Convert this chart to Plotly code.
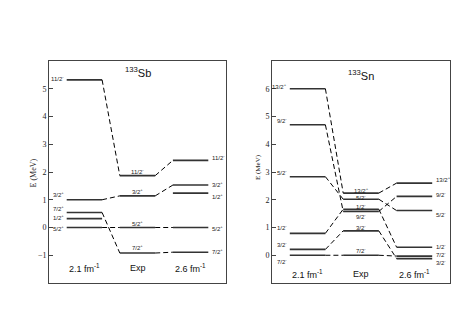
import plotly.graph_objects as go

# ---------------- data ----------------
column_labels = ["2.1 fm<sup>-1</sup>", "Exp", "2.6 fm<sup>-1</sup>"]

sb_title = "<sup>133</sup>Sb"
sb_spins = ["11/2<sup>-</sup>", "3/2<sup>+</sup>", "7/2<sup>+</sup>", "1/2<sup>+</sup>", "5/2<sup>+</sup>"]
sb_calc21 = [5.32, 1.00, 0.54, 0.32, 0.00]
sb_exp = [1.87, 1.14, -0.92, None, 0.00]
sb_calc26 = [2.42, 1.53, -0.89, 1.24, 0.00]

sn_title = "<sup>133</sup>Sn"
sn_spins = ["13/2<sup>+</sup>", "9/2<sup>-</sup>", "5/2<sup>-</sup>", "1/2<sup>-</sup>", "3/2<sup>-</sup>", "7/2<sup>-</sup>"]
sn_calc21 = [6.00, 4.70, 2.83, 0.79, 0.21, 0.00]
sn_exp = [2.24, 1.58, 2.02, 1.66, 0.88, 0.00]
sn_calc26 = [2.60, 2.12, 1.61, 0.29, -0.12, -0.03]

# ---------------- style / layout helpers ----------------
COLS = [(1, 3), (4, 6), (7, 9)]
LEVEL_COLOR = "#333333"
SANS = "Liberation Sans"
SERIF = "Liberation Serif"

# label vertical offsets in pixels (up positive): left column, exp column, right column
sb_off = {"l": [2, 6, 5, 2, 0], "e": [5, 5, 6, 0, 5], "r": [3, 1, 1, -3, 0]}
sn_off = {"l": [3, 5, 5, 6, 5, -6], "e": [3.5, -5, 2, 3, 3.5, 5.5], "r": [4, 2, -3, 1, -3.5, 2]}

fig = go.Figure()
annotations = []


def add_panel(xa, ya, spins, c21, cex, c26, off, title, title_y, collab_y):
    cols = [c21, cex, c26]
    lx, ly = [], []
    for (x0, x1), vals in zip(COLS, cols):
        for v in vals:
            if v is None:
                continue
            lx += [x0, x1, None]
            ly += [v, v, None]
    fig.add_trace(go.Scatter(x=lx, y=ly, mode="lines", xaxis=xa, yaxis=ya,
                             line=dict(color=LEVEL_COLOR, width=1.6),
                             hoverinfo="skip", showlegend=False))
    dx, dy = [], []
    for a, b, (xa0, xa1), (xb0, xb1) in [(c21, cex, COLS[0], COLS[1]), (cex, c26, COLS[1], COLS[2])]:
        for va, vb in zip(a, b):
            if va is None or vb is None:
                continue
            dx += [xa1, xb0, None]
            dy += [va, vb, None]
    fig.add_trace(go.Scatter(x=dx, y=dy, mode="lines", xaxis=xa, yaxis=ya,
                             line=dict(color="black", width=1, dash="5px,3px"),
                             hoverinfo="skip", showlegend=False))
    xr = xa.replace("x", "x")
    yr = ya
    f = dict(family=SANS, size=6, color="#222")
    for s, v, o in zip(spins, c21, off["l"]):
        annotations.append(dict(x=COLS[0][0] - 0.05, y=v, xref=xa, yref=ya, text=s, showarrow=False,
                                xanchor="right", yanchor="middle", yshift=o, font=f))
    for s, v, o in zip(spins, cex, off["e"]):
        if v is None:
            continue
        annotations.append(dict(x=(COLS[1][0] + COLS[1][1]) / 2, y=v, xref=xa, yref=ya, text=s, showarrow=False,
                                xanchor="center", yanchor="middle", yshift=o, font=f))
    for s, v, o in zip(spins, c26, off["r"]):
        annotations.append(dict(x=COLS[2][1] + 0.1, y=v, xref=xa, yref=ya, text=s, showarrow=False,
                                xanchor="left", yanchor="middle", yshift=o, font=f))
    for lab, (x0, x1) in zip(column_labels, COLS):
        annotations.append(dict(x=(x0 + x1) / 2, y=collab_y, xref=xa, yref=ya, text=lab, showarrow=False,
                                xanchor="center", yanchor="middle", font=dict(family=SANS, size=9, color="#111")))
    annotations.append(dict(x=5, y=title_y, xref=xa, yref=ya, text=title, showarrow=False,
                            xanchor="center", yanchor="middle", font=dict(family=SANS, size=11, color="#111")))


add_panel("x", "y", sb_spins, sb_calc21, sb_exp, sb_calc26, sb_off, sb_title, 5.6, -1.45)
add_panel("x2", "y2", sn_spins, sn_calc21, sn_exp, sn_calc26, sn_off, sn_title, 6.5, -0.68)

annotations.append(dict(x=24.5 / 468, y=1 - 165 / 331, xref="paper", yref="paper", text="E (MeV)",
                        showarrow=False, textangle=-90, xanchor="center", yanchor="middle",
                        font=dict(family=SERIF, size=8, color="#222")))
annotations.append(dict(x=250 / 468, y=1 - 159 / 331, xref="paper", yref="paper", text="E (MeV)",
                        showarrow=False, textangle=-90, xanchor="center", yanchor="middle",
                        font=dict(family=SERIF, size=7, color="#222")))

axis_common = dict(showline=True, linecolor="#444", linewidth=1, mirror=True, showgrid=False, zeroline=False)
yd = [1 - 275 / 331, 1 - 53 / 331]
fig.update_layout(
    width=468, height=331, margin=dict(l=0, r=0, t=0, b=0),
    paper_bgcolor="white", plot_bgcolor="white",
    xaxis=dict(domain=[41 / 468, 218 / 468], range=[0, 10], showticklabels=False, ticks="", **axis_common),
    yaxis=dict(domain=yd, range=[-2, 6], tickvals=[-1, 0, 1, 2, 3, 4, 5], ticks="inside", ticklen=4,
               tickcolor="#444", tickfont=dict(family=SERIF, size=8, color="#222"), **axis_common),
    xaxis2=dict(domain=[264 / 468, 442 / 468], range=[0, 10], showticklabels=False, ticks="",
                anchor="y2", **axis_common),
    yaxis2=dict(domain=yd, range=[-1, 7], tickvals=[0, 1, 2, 3, 4, 5, 6], ticks="inside", ticklen=4,
                anchor="x2", tickcolor="#444", tickfont=dict(family=SERIF, size=8, color="#222"), **axis_common),
    annotations=annotations,
)

fig.write_html("out.html")
